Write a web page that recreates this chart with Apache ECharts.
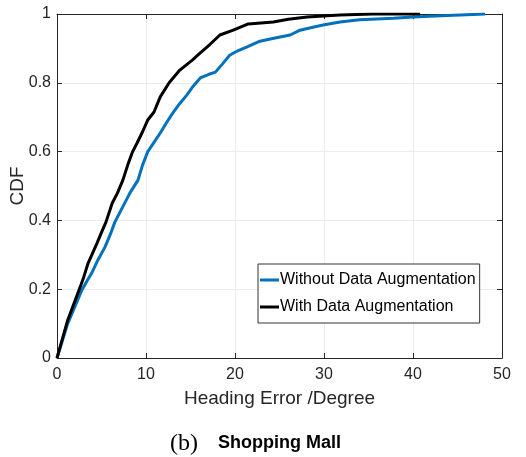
<!DOCTYPE html>
<html>
<head>
<meta charset="utf-8">
<script src="https://cdn.jsdelivr.net/npm/echarts@6/dist/echarts.min.js"></script>
<style>
  html, body { margin: 0; padding: 0; background: #fff; }
  #chart { width: 526px; height: 457px; }
</style>
</head>
<body>
<div id="chart"></div>
<script>
// CDF of heading error
var withoutX = [0, 1.2, 2.8, 3.4, 3.9, 4.6, 5.4, 6.0, 6.5, 7.3, 8.2, 9.1, 9.6, 10.2, 10.9, 11.6, 12.3, 13.0, 13.8, 14.6, 15.3, 16.1, 17.0, 17.8, 18.6, 19.4, 20.3, 21.3, 22.8, 24.5, 26.2, 27.3, 28.5, 29.9, 31.8, 34, 37.8, 40, 42.5, 45.3, 48.1];
var withoutY = [0, 0.10, 0.198, 0.225, 0.247, 0.285, 0.323, 0.36, 0.395, 0.435, 0.48, 0.517, 0.56, 0.6, 0.627, 0.654, 0.684, 0.712, 0.74, 0.765, 0.79, 0.814, 0.824, 0.831, 0.855, 0.88, 0.893, 0.904, 0.921, 0.93, 0.939, 0.953, 0.96, 0.968, 0.977, 0.983, 0.988, 0.991, 0.994, 0.997, 1.0];
var withX = [0, 1.2, 2.6, 3.0, 3.5, 4.0, 4.5, 5.0, 5.5, 6.2, 6.8, 7.4, 8.0, 8.5, 9.0, 9.6, 10.2, 10.9, 11.6, 12.6, 13.8, 15.2, 16.1, 17.2, 18.3, 19.8, 21.5, 24.3, 26.0, 28.1, 31.8, 35.5, 40.8];
var withY = [0, 0.11, 0.206, 0.235, 0.276, 0.305, 0.334, 0.365, 0.395, 0.45, 0.48, 0.517, 0.565, 0.6, 0.625, 0.657, 0.692, 0.715, 0.759, 0.8, 0.837, 0.866, 0.887, 0.912, 0.939, 0.953, 0.971, 0.977, 0.985, 0.991, 0.997, 1.0, 1.0];
var seriesNames = ['Without Data Augmentation', 'With Data Augmentation'];
var seriesColors = ['#0072bd', '#000000'];

function pairs(xs, ys) {
    return xs.map(function (x, i) { return [x, ys[i]]; });
}

var axisColor = '#262626';
var font = 'Liberation Sans, Arial, sans-serif';

var chart = echarts.init(document.getElementById('chart'));
var option = {
    backgroundColor: '#ffffff',
    animation: false,
    grid: { left: 57, top: 14, right: 24, bottom: 99, outerBoundsMode: 'none', containLabel: false },
    legend: {
        orient: 'vertical',
        left: 258,
        top: 264,
        data: seriesNames.map(function (n) { return { name: n, icon: 'rect' }; }),
        itemWidth: 19,
        itemHeight: 3,
        itemGap: 11,
        padding: [8, 4, 8, 2],
        borderColor: '#333',
        borderWidth: 1,
        backgroundColor: '#fff',
        textStyle: { fontFamily: font, fontSize: 16, color: '#000', padding: [0, 0, 0, -4] }
    },
    xAxis: [{
        type: 'value', min: 0, max: 50, interval: 10,
        name: 'Heading Error /Degree', nameLocation: 'middle', nameGap: 31, nameMoveOverlap: false,
        nameTextStyle: { fontFamily: font, fontSize: 19, color: axisColor },
        axisLine: { show: true, onZero: false, lineStyle: { color: axisColor, width: 1 } },
        axisTick: { inside: true, length: 5, lineStyle: { color: axisColor } },
        axisLabel: { fontFamily: font, fontSize: 16, color: axisColor, margin: 9 },
        splitLine: { show: true, lineStyle: { color: '#ececec', width: 1 } }
    }, {
        type: 'value', min: 0, max: 50, interval: 10, position: 'top',
        axisLine: { show: true, onZero: false, lineStyle: { color: axisColor, width: 1 } },
        axisTick: { inside: true, length: 5, lineStyle: { color: axisColor } },
        axisLabel: { show: false },
        splitLine: { show: false }
    }],
    yAxis: [{
        type: 'value', min: 0, max: 1, interval: 0.2,
        name: 'CDF', nameLocation: 'middle', nameGap: 30, nameRotate: 90, nameMoveOverlap: false,
        nameTextStyle: { fontFamily: font, fontSize: 19, color: axisColor },
        axisLine: { show: true, onZero: false, lineStyle: { color: axisColor, width: 1 } },
        axisTick: { show: true, inside: true, length: 5, lineStyle: { color: axisColor } },
        axisLabel: {
            fontFamily: font, fontSize: 16, color: axisColor, margin: 6,
            formatter: function (v) { return String(Math.round(v * 10) / 10); }
        },
        splitLine: { show: true, lineStyle: { color: '#ececec', width: 1 } }
    }, {
        type: 'value', min: 0, max: 1, interval: 0.2, position: 'right',
        axisLine: { show: true, onZero: false, lineStyle: { color: axisColor, width: 1 } },
        axisTick: { show: true, inside: true, length: 5, lineStyle: { color: axisColor } },
        axisLabel: { show: false },
        splitLine: { show: false }
    }],
    series: [{
        name: seriesNames[0], type: 'line', showSymbol: false, symbol: 'none',
        data: pairs(withoutX, withoutY),
        lineStyle: { color: seriesColors[0], width: 3 },
        itemStyle: { color: seriesColors[0] },
        z: 3
    }, {
        name: seriesNames[1], type: 'line', showSymbol: false, symbol: 'none',
        data: pairs(withX, withY),
        lineStyle: { color: seriesColors[1], width: 3 },
        itemStyle: { color: seriesColors[1] },
        z: 4
    }],
    graphic: [{
        type: 'text', left: 170, top: 432,
        style: { text: '(b)', fontFamily: 'Liberation Serif, serif', fontSize: 24, fill: '#000' }
    }, {
        type: 'text', left: 218, top: 434,
        style: { text: 'Shopping Mall', fontFamily: font, fontSize: 18, fontWeight: 'bold', fill: '#000' }
    }]
};
chart.setOption(option);
</script>
</body>
</html>
